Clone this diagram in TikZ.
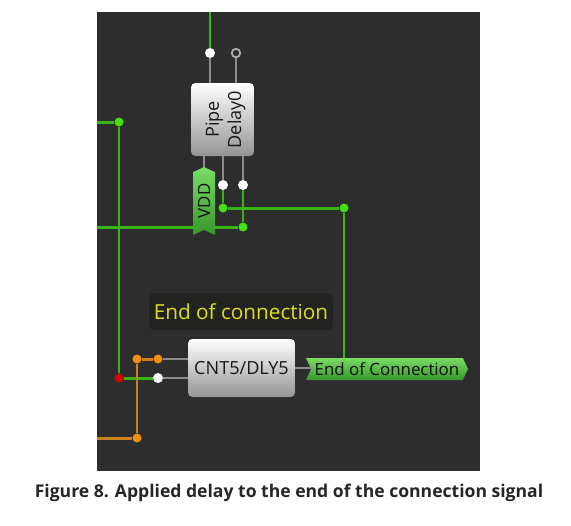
\documentclass[tikz,border=0pt]{standalone}
\usepackage{fontspec}
\setmainfont{Open Sans}
\usepackage{tikz}
\usetikzlibrary{shapes.symbols,positioning,calc}
\usepackage{xcolor}
\definecolor{panelgrey}{RGB}{45,45,45}
\definecolor{labelgrey}{RGB}{34,34,32}
\definecolor{wiregreen}{RGB}{56,180,20}
\definecolor{dotgreen}{RGB}{70,224,16}
\definecolor{wireorange}{RGB}{204,128,28}
\definecolor{dotorange}{RGB}{240,144,16}
\definecolor{stubgrey}{RGB}{140,140,140}
\definecolor{labelyellow}{RGB}{222,222,30}
\definecolor{flagtop}{RGB}{120,220,100}
\definecolor{flagbottom}{RGB}{56,150,44}
\tikzset{
    blocknode/.style={
        rectangle,
        rounded corners=2.5pt,
        inner sep=0pt,
        top color=white,
        bottom color=black!42,
        text=black!90,
        font=\fontsize{10.3}{12.7}\selectfont,
        align=center
    },
    flagnode/.style={
        signal,
        signal to=east,
        signal from=west,
        signal pointer angle=130,
        inner sep=0pt,
        top color=flagtop,
        bottom color=flagbottom,
        text=black!95,
        font=\fontsize{9.6}{11}\selectfont
    },
    dot/.style={
        circle,
        inner sep=0pt,
        minimum size=0.18cm,
        fill=dotgreen
    },
    orangedot/.style={
        dot,
        fill=dotorange
    },
    pin/.style={
        circle,
        inner sep=0pt,
        minimum size=0.2cm,
        fill=white
    },
    openpin/.style={
        circle,
        inner sep=0pt,
        minimum size=0.17cm,
        draw=stubgrey!70!white,
        line width=1pt,
        fill=panelgrey
    },
    wire/.style={
        wiregreen,
        line width=1.7pt
    },
    orangewire/.style={
        wireorange,
        line width=1.7pt
    },
    stub/.style={
        stubgrey,
        line width=1.6pt
    }
}
\begin{document}
\begin{tikzpicture}[x=0.02cm,y=-0.02cm]
        \useasboundingbox (0,0) rectangle (571,525);
        \fill[white] (0,0) rectangle (571,525);
        \fill[panelgrey] (97,12) rectangle (480,471);

        % Free wire ends on the panel border
        \coordinate (topend) at (210,12);
        \coordinate (upperend) at (97,122);
        \coordinate (vddend) at (97,227);
        \coordinate (orangeend) at (97,438);

        % Pins and junctions
        \node[pin] (pipein) at (210,53) {};
        \node[openpin] (delayin) at (236,53) {};
        \node[pin] (pipeout) at (223,185) {};
        \node[pin] (delayout) at (243,185) {};
        \node[dot] (pipedot) at (223,208) {};
        \node[dot] (vdddot) at (243,227) {};
        \node[dot] (eastdot) at (344,208) {};
        \node[dot] (upperdot) at (119,122) {};
        \node[dot,fill=red!85!black] (reddot) at (119,378) {};
        \node[pin] (cntin) at (158,378) {};
        \node[orangedot] (cntclk) at (158,359) {};
        \node[orangedot] (clkdot) at (137,359) {};
        \node[orangedot] (lowdot) at (137,438) {};

        % Green wires
        \draw[wire] (topend) -- (pipein);
        \draw[wire] (upperend) -- (upperdot);
        \draw[wire] (upperdot) -- (reddot);
        \draw[wire] (reddot) -- (cntin);
        \draw[wire] (vddend) -- (vdddot);
        \draw[wire] (vdddot) -- (delayout);
        \draw[wire] (pipeout) -- (pipedot);
        \draw[wire] (pipedot) -- (eastdot);

        % Orange wires
        \draw[orangewire] (orangeend) -- (lowdot);
        \draw[orangewire] (lowdot) -- (clkdot);
        \draw[orangewire] (clkdot) -- (cntclk);

        % Blocks
        \node[blocknode,rotate=90,minimum width=1.46cm,minimum height=1.26cm] (pipe) at (222.5,119.5) {\rule{0pt}{11pt}Pipe\\Delay0};
        \node[blocknode,minimum width=2.14cm,minimum height=1.16cm] (cnt) at (241.5,368) {CNT5/DLY5};

        % Flags
        \node[flagnode,rotate=90,minimum width=1.36cm,minimum height=0.44cm] (vdd) at (204,201) {VDD};
        \node[flagnode,minimum width=3.24cm,minimum height=0.44cm] (eoc) at (387,369) {End of Connection};

        % Stubs
        \draw[wire] (eastdot) -- (eastdot |- eoc.north);
        \draw[stub] (pipein) -- (pipein |- pipe.east);
        \draw[stub] (delayin) -- (delayin |- pipe.east);
        \draw[stub] (pipeout |- pipe.west) -- (pipeout);
        \draw[stub] (delayout |- pipe.west) -- (delayout);
        \draw[stub] (vdd.east) -- (vdd.east |- pipe.west);
        \draw[stub] (cntclk) -- (cntclk -| cnt.west);
        \draw[stub] (cntin) -- (cntin -| cnt.west);
        \draw[stub] (cnt.east) -- (cnt.east -| eoc.west);

        % Texts
        \node[fill=labelgrey,rounded corners=3pt,text=labelyellow,minimum width=3.68cm,minimum height=0.74cm,
            inner sep=0pt,font=\fontsize{11.8}{14}\selectfont] (eoclabel) at (241,311.5) {End of connection};
        \node[inner sep=0pt,text=black!85,font=\fontsize{10}{12}\selectfont\bfseries] (caption) at (289,493)
            {Figure 8. Applied delay to the end of the connection signal};
    \end{tikzpicture}
\end{document}
